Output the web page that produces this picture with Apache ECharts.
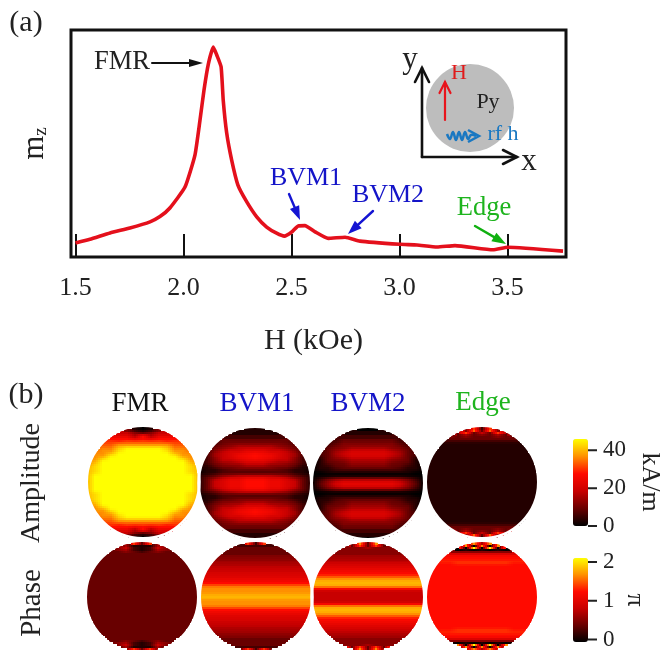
<!DOCTYPE html>
<html><head><meta charset="utf-8">
<style>html,body{margin:0;padding:0;background:#fff}#c{width:663px;height:651px}</style>
<script src="https://cdn.jsdelivr.net/npm/echarts@6/dist/echarts.min.js"></script>
</head><body><div id="c"></div>
<script>
// ---- panel (a): curve ----
const fieldH = [1.50,1.567,1.66,1.752,1.845,1.891,1.937,2.007,2.053,2.076,2.095,2.115,2.138,2.154,2.174,2.184,2.2,2.223,2.252,2.293,2.339,2.385,2.431,2.467,2.501,2.531,2.562,2.609,2.67,2.748,2.817,3.002,3.081,3.174,3.257,3.433,3.502,3.757];
const mz = [6.2,7.8,10.6,12.8,15.5,17.8,21.6,30.8,44.9,60,73.6,85,92.5,89,83.8,69,54.6,42.7,31.7,24.3,17.7,13.2,10.5,9.2,11,13.7,13.8,11.1,8.2,8.7,7,5.6,5.3,4.4,5,3.2,4.3,2.6];
const xTicks = [1.5,2.0,2.5,3.0,3.5];
const ampTicks = [0,20,40];
const phaseTicks = [0,1,2];
const modeNames = ['FMR','BVM1','BVM2','Edge'];
const modeColors = ['#111111','#1414c8','#1414c8','#1eb41e'];

// ---- panel (b): quarter-disc level tables (hex level 0-f). Rows: top of disc to centre; columns: disc centre to rim ----
const ampFMR = ['01222222','12445555','34666666','75777777','96888888','98999999','aaa9aaaa','bbbbaaaa','ccccbbbb','eeedbbbb','fffeccbb','fffeccbb','ffffdccc','ffffeccc','fffffdcc','fffffecc','ffffffdc','ffffffdc','ffffffec','ffffffed','ffffffed','ffffffed','ffffffed','fffffffd','fffffffd','fffffffd','fffffffd','fffffffd'];
const ampBVM1 = ['11111111','11111111','11111110','22222110','22222211','33333211','33333211','44443211','55544311','66654311','77665421','88776421','98876521','99876521','98876421','88766421','77655421','66554321','55444311','44433211','33332110','22222110','33333211','66654321','88776431','99887631','99887631','99887631'];
const ampBVM2 = ['00000000','11111100','11111100','22222110','22222110','33332110','33332210','44443210','44443210','55544310','66654310','77765320','77765320','77765320','66654310','55544310','55543310','44433210','44433210','33332110','22222110','11111100','00000000','00000000','33333210','66665420','77776420','88887530'];
const ampEdge = ['2a2a0000','3b4c3000','63a5a300','4353a500','33434330','33333330','22222220','11111110','11111100','11111111','11111111','11111111','11111111','11111111','11111111','11111111','11111111','11111111','11111111','11111111','11111111','11111111','11111111','11111111','11111111','11111111','11111111','11111111'];
const phaseFMR = ['3a3a3333','11523333','12643333','12543333','23433333','33333333','33333333','33333333','33333333','33333333','33333333','33333333','33333333','33333333','33333333','33333333','33333333','33333333','33333333','33333333','33333333','33333333','33333333','33333333','33333333','33333333','33333333','33333333'];
const phaseBVM1 = ['2a222222','22222222','33333333','33333333','33333333','33333333','44444444','44444444','44444444','55555555','55555555','55555555','66666666','66666666','66666666','77777777','77777777','77777777','88888888','88888888','99999999','aaaaaaaa','cccccccc','cccccccc','cccccccc','cccccccc','dddddddd','dddddddd'];
const phaseBVM2 = ['3c3c3c00','3a3d3a00','54444330','44444444','44444444','44444444','55555555','55555555','55555555','66666666','66666666','77777777','77777777','88888888','88888888','99999999','99999999','bbbbbbbb','cccccccc','dddddddd','dddddddd','dddddddd','cccccccc','88888888','66666666','66666666','66666666','66666666'];
const phaseEdge = ['5c5c0000','c0c0c000','0f0c0c00','10101100','44444400','77777770','99999993','99999999','99999999','aaaaaa99','aaaa9999','99999999','99999999','99999999','99999999','99999999','99999999','99999999','99999999','99999999','99999999','99999999','99999999','99999999','99999999','99999999','99999999','99999999'];
const ampTables = [ampFMR,ampBVM1,ampBVM2,ampEdge];
const phaseTables = [phaseFMR,phaseBVM1,phaseBVM2,phaseEdge];
const ampMax = 46, phaseMax = 2.1;

const hotColors = ['#000000','#680000','#c80000','#ff0a00','#ff9000','#ffff00'];
const serif = '"Liberation Serif","Times New Roman",serif';

function level(table,yi,x){
  const r = Math.min(Math.max(yi<=28?yi-1:56-yi-1,0),27), row=table[r];
  const p=Math.min(Math.abs(x),56)/8,i=Math.floor(p),f=p-i;
  const a=parseInt(row[i],16),b=parseInt(row[Math.min(i+1,7)],16);
  return a+(b-a)*f;
}
function cells(table, full){
  const out=[];
  for(let yi=0;yi<57;yi++){
    for(let xi=0;xi<57;xi++){
      const x=(xi-28)*2,y=(yi-28)*2;
      if((x+.5)*(x+.5)+(y+.5)*(y+.5)>55.5*55.5) continue;
      const mid=level(table,yi,x);
      const cap=yi<7||yi>49;
      const up=cap?mid:level(table,Math.max(yi-1,0),x),dn=cap?mid:level(table,Math.min(yi+1,56),x);
      out.push([xi,yi,(up+2*mid+dn)/4/15*full]);
    }
  }
  return out;
}
function renderCell(params,api){
  const p=api.coord([api.value(0),api.value(1)]);
  return {type:'rect',shape:{x:Math.round(p[0])-1,y:Math.round(p[1])-1,width:3,height:3},style:{fill:api.visual('color')}};
}
const idx=Array.from({length:57},(_,i)=>i);
const centers=[[143,482],[255,483],[368,483],[482,482],[142,597],[256,597],[368,597],[482,597]];
const grids=[{left:71,top:30,width:495,height:227,show:true,borderColor:'#111',borderWidth:3,backgroundColor:'transparent'}];
const xAxes=[{type:'value',gridIndex:0,min:1.4792,max:3.7708,splitLine:{show:false},axisLine:{show:false},
  axisTick:{inside:true,length:23,customValues:xTicks,lineStyle:{color:'#111',width:2}},
  axisLabel:{customValues:xTicks,margin:18,fontFamily:serif,fontSize:26,color:'#222',formatter:v=>v.toFixed(1)},
  name:'H (kOe)',nameLocation:'middle',nameGap:69,nameTextStyle:{fontFamily:serif,fontSize:30,color:'#222',padding:[0,10,0,0]}}];
const yAxes=[{type:'value',gridIndex:0,min:0,max:100,show:true,splitLine:{show:false},axisLine:{show:false},axisTick:{show:false},axisLabel:{show:false},
  name:'m{s|z}',nameLocation:'middle',nameGap:20,nameRotate:90,nameTextStyle:{fontFamily:serif,fontSize:31,color:'#222',rich:{s:{fontFamily:serif,fontSize:19,color:'#222',padding:[14,0,0,0]}}}}];
const series=[{type:'line',xAxisIndex:0,yAxisIndex:0,data:fieldH.map((h,i)=>[h,mz[i]]),showSymbol:false,symbol:'none',smooth:0.15,lineStyle:{color:'#e4101c',width:3.6,join:'round'},z:5}];
[...ampTables,...phaseTables].forEach((t,i)=>{
  const [cx,cy]=centers[i];
  grids.push({left:cx-57,top:cy-57,width:114,height:114});
  const g=grids.length-1;
  xAxes.push({type:'category',gridIndex:g,data:idx,show:false});
  yAxes.push({type:'category',gridIndex:g,data:idx,show:false});
  series.push({type:'custom',xAxisIndex:g,yAxisIndex:g,data:cells(t,i<4?ampMax:phaseMax),encode:{x:0,y:1},renderItem:renderCell,progressive:0,clip:false,silent:true});
});
// colour bar scale ticks and labels
function barAxis(top,h,max,ticks){
  grids.push({left:588,top:top,width:9,height:h});
  const g=grids.length-1;
  xAxes.push({type:'value',gridIndex:g,min:0,max:1,show:false});
  yAxes.push({type:'value',gridIndex:g,min:0,max:max,position:'right',splitLine:{show:false},axisLine:{show:false},axisTick:{show:false},
    axisLabel:{customValues:ticks,margin:6,fontFamily:serif,fontSize:23,color:'#222',formatter:v=>String(v)}});
  const segs=[];
  ticks.forEach(v=>{segs.push([0,v],[1,v],['-','-']);});
  series.push({type:'line',xAxisIndex:g,yAxisIndex:g,data:segs,showSymbol:false,symbol:'none',clip:false,silent:true,lineStyle:{color:'#222',width:2}});
}
barAxis(439,87,ampMax,ampTicks);
barAxis(558,84,phaseMax,phaseTicks);

// annotations
function txt(t,x,y,size,color,rot){return {type:'text',x:x,y:y,rotation:rot||0,z:20,style:{text:t,fontFamily:serif,fontSize:size,fill:color,align:'center',verticalAlign:'middle'}};}
function ln(x1,y1,x2,y2,c,w){return {type:'line',z:20,shape:{x1,y1,x2,y2},style:{stroke:c,lineWidth:w,lineCap:'round'}};}
function headPts(x1,y1,x2,y2,L,W){const a=Math.atan2(y2-y1,x2-x1),c=Math.cos(a),s=Math.sin(a);
  return [[x2-L*c+W*s,y2-L*s-W*c],[x2,y2],[x2-L*c-W*s,y2-L*s+W*c]];}
function filledArrow(x1,y1,x2,y2,c,w,L,W){return [ln(x1,y1,x2-(x2-x1)*.2,y2-(y2-y1)*.2,c,w),{type:'polygon',z:20,shape:{points:headPts(x1,y1,x2,y2,L,W)},style:{fill:c}}];}
function openArrow(x1,y1,x2,y2,c,w,L,W){return [ln(x1,y1,x2,y2,c,w),{type:'polyline',z:20,shape:{points:headPts(x1,y1,x2,y2,L,W)},style:{stroke:c,fill:null,lineWidth:w,lineCap:'round'}}];}
const wave=[[447,134],[450,139],[453,132],[456,140],[459,132],[462,140],[465,132],[468,139],[471,135],[476,136]];
const rims=centers.map(([cx,cy])=>({type:'circle',z:15,shape:{cx,cy,r:56.4},style:{fill:null,stroke:'#fff',lineWidth:2.8}}));
const graphic=[
  ...rims,
  txt('(a)',26,23,30,'#222'),txt('(b)',26,395,30,'#222'),
  {type:'circle',z:10,shape:{cx:470,cy:108,r:44},style:{fill:'#bdbdbd'}},
  ...openArrow(422,157,422,68,'#111',2.6,14,7),
  ...openArrow(422,157,517,157,'#111',2.6,14,7),
  txt('y',410,60,31,'#222'),txt('x',529,162,31,'#222'),
  ...openArrow(445,120,445,82,'#e8141c',2.2,11,5.5),
  txt('H',459,73,22,'#e01a1a'),txt('Py',488,102,22,'#222'),
  {type:'polyline',z:20,shape:{points:wave,smooth:0.4},style:{stroke:'#1a78c2',fill:null,lineWidth:2.5}},
  {type:'polyline',z:20,shape:{points:headPts(460,136,479,136,11,6)},style:{stroke:'#1a78c2',fill:null,lineWidth:2.5}},
  txt('rf h',503,134,22,'#1a78c2'),
  txt('FMR',122,62,26.5,'#222'),
  ...filledArrow(152,63,203,63,'#111',2,14,4),
  txt('BVM1',306,178,26,modeColors[1]),
  ...filledArrow(289,194,300,220,'#1414d2',2.4,14,5),
  txt('BVM2',388,195,26,modeColors[2]),
  ...filledArrow(373,211,348,234,'#1414d2',2.4,14,5),
  txt('Edge',484,208,26.5,modeColors[3]),
  ...filledArrow(475,226,506,244,'#10b010',2.4,14,5),
  txt(modeNames[0],140,404,27,modeColors[0]),
  txt(modeNames[1],257,404,27,modeColors[1]),
  txt(modeNames[2],368,404,27,modeColors[2]),
  txt(modeNames[3],483,403,27,modeColors[3]),
  txt('Amplitude',32,483,28,'#222',Math.PI/2),
  txt('Phase',32,603,29,'#222',Math.PI/2),
  txt('kA/m',650,482,26,'#222',-Math.PI/2),
  txt('π',635,600,26,'#222',-Math.PI/2)
];
const chart=echarts.init(document.getElementById('c'),null,{renderer:'canvas'});
chart.setOption({
  animation:false,backgroundColor:'#fff',
  grid:grids,xAxis:xAxes,yAxis:yAxes,series:series,graphic:graphic,
  visualMap:[
   {type:'continuous',seriesIndex:[1,2,3,4],dimension:2,min:0,max:ampMax,left:573,top:439,itemWidth:15,itemHeight:87,padding:0,calculable:false,text:null,inRange:{color:hotColors},hoverLink:false},
   {type:'continuous',seriesIndex:[5,6,7,8],dimension:2,min:0,max:phaseMax,left:573,top:558,itemWidth:15,itemHeight:84,padding:0,calculable:false,text:null,inRange:{color:hotColors},hoverLink:false}
  ]
});
</script></body></html>
